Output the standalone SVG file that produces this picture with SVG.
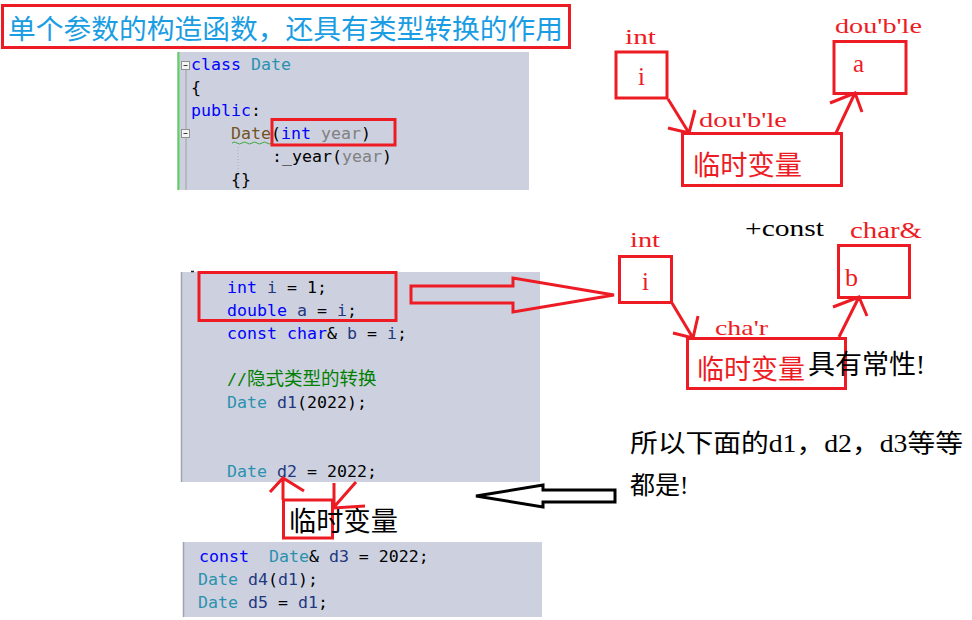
<svg xmlns="http://www.w3.org/2000/svg" width="972" height="620" viewBox="0 0 972 620">
<style>
.code{font-family:"DejaVu Sans Mono","Liberation Mono",monospace;font-size:16.6px;fill:#000;white-space:pre}
.kw{fill:#0000ff}.ty{fill:#2b91af}.fn{fill:#74531f}.pa{fill:#808080}.lo{fill:#1f377f}.cm{fill:#008000}
.panel{fill:#cdd1df}
.red{stroke:#ed1c24;stroke-width:3;fill:none}
.redt{fill:#ed1c24;font-family:"Liberation Serif","Noto Sans CJK SC",serif}
.cjk{font-family:"Noto Sans CJK SC",sans-serif}
.blk{fill:#000;font-family:"Liberation Serif","Noto Sans CJK SC",serif}
</style>
<rect width="972" height="620" fill="#fff"/>

<g id="title">
<rect x="2.5" y="5.5" width="567" height="42" fill="none" stroke="#ed1c24" stroke-width="3"/>
<text x="8" y="39" class="cjk" font-size="27.5" fill="#1a9de2" textLength="555" lengthAdjust="spacingAndGlyphs">单个参数的构造函数，还具有类型转换的作用</text>
</g>

<g id="code1">
<rect class="panel" x="177" y="52" width="352" height="138"/>
<line x1="178.5" y1="52" x2="178.5" y2="190" stroke="#5fd35f" stroke-width="2"/>
<line x1="186" y1="69" x2="186" y2="190" stroke="#a0a0a0" stroke-width="1"/>
<rect x="181.5" y="61.5" width="8" height="8" fill="#f4f4f4" stroke="#909090"/>
<line x1="183.5" y1="65.5" x2="187.5" y2="65.5" stroke="#404040"/>
<rect x="181.5" y="129.5" width="8" height="8" fill="#f4f4f4" stroke="#909090"/>
<line x1="183.5" y1="133.5" x2="187.5" y2="133.5" stroke="#404040"/>
<line x1="238" y1="147" x2="238" y2="190" stroke="#a8abb8" stroke-dasharray="1,2"/>
<text class="code" x="191" y="70"><tspan class="kw">class</tspan> <tspan class="ty">Date</tspan></text>
<text class="code" x="191" y="93">{</text>
<text class="code" x="191" y="116"><tspan class="kw">public</tspan>:</text>
<text class="code" x="231" y="139"><tspan class="fn">Date</tspan>(<tspan class="kw">int</tspan> <tspan class="pa">year</tspan>)</text>
<path d="M232,143 q2.5,-2 5,0 t5,0 t5,0 t5,0 t5,0 t5,0 t5,0 t5,0" fill="none" stroke="#3fa83f" stroke-width="1"/>
<text class="code" x="272" y="162">:_year(<tspan class="pa">year</tspan>)</text>
<text class="code" x="231" y="185">{}</text>
<rect class="red" x="272" y="119.5" width="123" height="25.5"/>
</g>

<g id="code2">
<rect class="panel" x="181" y="272" width="359" height="210"/>
<line x1="181.5" y1="272" x2="181.5" y2="482" stroke="#a0a3ad" stroke-width="1.5"/>
<line x1="191" y1="271.5" x2="194" y2="271.5" stroke="#202020" stroke-width="1.5"/>
<text class="code" x="227" y="293"><tspan class="kw">int</tspan> <tspan class="lo">i</tspan> = 1;</text>
<text class="code" x="227" y="316"><tspan class="kw">double</tspan> <tspan class="lo">a</tspan> = <tspan class="lo">i</tspan>;</text>
<text class="code" x="227" y="339"><tspan class="kw">const</tspan> <tspan class="kw">char</tspan>&amp; <tspan class="lo">b</tspan> = <tspan class="lo">i</tspan>;</text>
<text class="code cm" x="227" y="385">//<tspan font-family="Noto Sans CJK SC,sans-serif" font-size="18.5">隐式类型的转换</tspan></text>
<text class="code" x="227" y="408"><tspan class="ty">Date</tspan> <tspan class="lo">d1</tspan>(2022);</text>
<text class="code" x="227" y="477"><tspan class="ty">Date</tspan> <tspan class="lo">d2</tspan> = 2022;</text>
<rect class="red" x="199" y="272.5" width="197" height="48"/>
</g>

<g id="code3">
<rect class="panel" x="183" y="542" width="359" height="75"/>
<line x1="183.5" y1="542" x2="183.5" y2="617" stroke="#a0a3ad" stroke-width="1.5"/>
<text class="code" x="199" y="562"><tspan class="kw">const</tspan>  <tspan class="ty">Date</tspan>&amp; <tspan class="lo">d3</tspan> = 2022;</text>
<text class="code" x="198" y="585"><tspan class="ty">Date</tspan> <tspan class="lo">d4</tspan>(<tspan class="lo">d1</tspan>);</text>
<text class="code" x="198" y="608"><tspan class="ty">Date</tspan> <tspan class="lo">d5</tspan> = <tspan class="lo">d1</tspan>;</text>
</g>

<g id="temp-d2">
<rect class="red" x="283.5" y="500" width="49" height="38"/>
<text x="289" y="531" class="cjk" font-size="27" fill="#000" textLength="109" lengthAdjust="spacingAndGlyphs">临时变量</text>
</g>

<g id="note">
<text x="630" y="452" class="blk" font-size="25" textLength="333" lengthAdjust="spacingAndGlyphs">所以下面的d1，d2，d3等等</text>
<text x="630" y="494" class="blk" font-size="25">都是!</text>
</g>

<g id="box-i1">
<text x="625" y="43.5" class="redt" font-size="22" textLength="31" lengthAdjust="spacingAndGlyphs">int</text>
<rect class="red" x="616" y="52" width="51" height="46"/>
<text x="638" y="85" class="redt" font-size="25">i</text>
</g>
<g id="box-a">
<text x="835" y="33" class="redt" font-size="22" textLength="87" lengthAdjust="spacingAndGlyphs">dou'b'le</text>
<rect class="red" x="834" y="41.5" width="72" height="52"/>
<text x="853" y="72" class="redt" font-size="25">a</text>
</g>
<g id="temp1">
<text x="699" y="127" class="redt" font-size="22" textLength="88" lengthAdjust="spacingAndGlyphs">dou'b'le</text>
<rect class="red" x="682.5" y="133.5" width="159" height="52"/>
<text x="693" y="175" class="cjk" font-size="27" fill="#ed1c24" textLength="109" lengthAdjust="spacingAndGlyphs">临时变量</text>
</g>

<g id="const-label">
<text x="745" y="236" class="blk" font-size="24" textLength="79" lengthAdjust="spacingAndGlyphs">+const</text>
</g>
<g id="box-i2">
<text x="630" y="247" class="redt" font-size="22" textLength="30" lengthAdjust="spacingAndGlyphs">int</text>
<rect class="red" x="619.5" y="256.5" width="52" height="46"/>
<text x="642" y="290" class="redt" font-size="25">i</text>
</g>
<g id="box-b">
<text x="850" y="238" class="redt" font-size="23" textLength="72" lengthAdjust="spacingAndGlyphs">char&amp;</text>
<rect class="red" x="838.5" y="245.5" width="71" height="52"/>
<text x="845" y="286" class="redt" font-size="26">b</text>
</g>
<g id="temp2">
<text x="715" y="335" class="redt" font-size="22" textLength="53" lengthAdjust="spacingAndGlyphs">cha'r</text>
<rect class="red" x="687.5" y="338.5" width="158" height="50"/>
<text x="697" y="379" class="cjk" font-size="27" fill="#ed1c24" textLength="108" lengthAdjust="spacingAndGlyphs">临时变量</text>
<text x="808" y="374" class="blk" font-size="27">具有常性!</text>
</g>

<g id="connectors">
<polygon class="red" points="411,286 513,286 513,278 614,295 513,312 513,303 411,303"/>
<polygon points="476,496 543,485 543,490 615,490 615,502 543,502 543,507" fill="none" stroke="#000" stroke-width="3"/>
<path class="red" d="M668,99 L689,133 M695,110 L689,133 L668,128"/>
<path class="red" d="M836,133 L855,93 M830,103 L855,93 L862,112"/>
<path class="red" d="M672,303 L693,338 M698,316 L693,338 L673,333"/>
<path class="red" d="M839,337 L859,297 M833,307 L859,297 L867,316"/>
<path class="red" d="M283,500 L283,479 M270,492 L283,478 L304,491"/>
<path class="red" d="M356,482 L334,507 M334,483 L334,508 L365,506"/>
</g>
</svg>
